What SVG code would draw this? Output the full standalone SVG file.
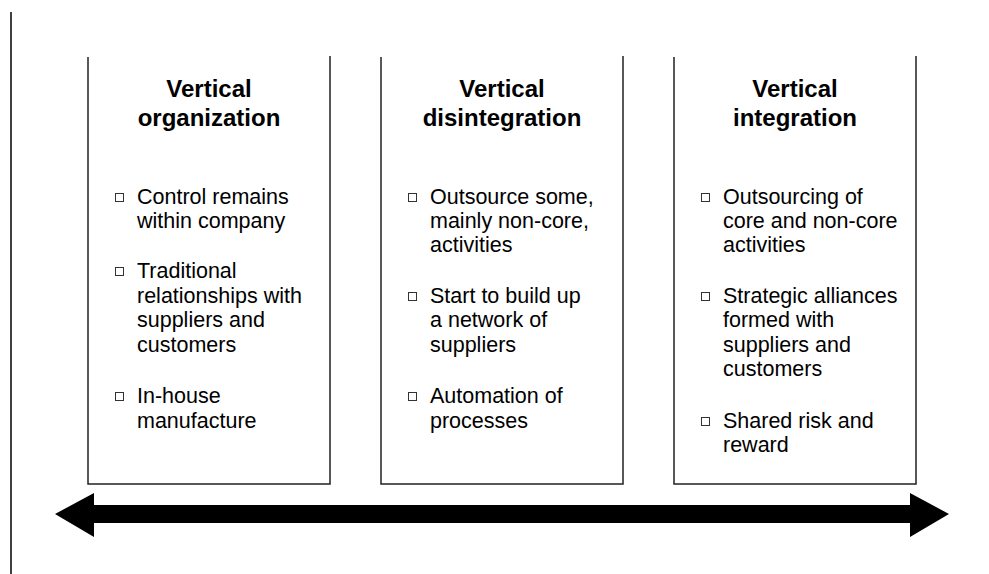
<svg xmlns="http://www.w3.org/2000/svg" width="989" height="574" viewBox="0 0 989 574">
<style>
.frame{fill:none;stroke:#222;stroke-width:1.5}
.t{font-family:"Liberation Sans",Arial,sans-serif;font-size:24px;font-weight:bold;fill:#000;text-anchor:middle}
.b{font-family:"Liberation Sans",Arial,sans-serif;font-size:21.5px;fill:#000}
.sq{fill:#fff;stroke:#333;stroke-width:1}
</style>
<rect width="989" height="574" fill="#fff"/>
<line x1="11" y1="12" x2="11" y2="574" stroke="#000" stroke-width="1.5"/>
<g id="box1">
<polyline class="frame" points="88,57 88,484 330,484 330,56"/>
<text class="t" x="209" y="97">Vertical</text>
<text class="t" x="209" y="126">organization</text>
<g class="b">
<rect class="sq" x="115.5" y="193.5" width="8" height="8"/>
<text x="137" y="204">Control remains</text>
<text x="137" y="228">within company</text>
<rect class="sq" x="115.5" y="267.5" width="8" height="8"/>
<text x="137" y="278">Traditional</text>
<text x="137" y="303">relationships with</text>
<text x="137" y="327">suppliers and</text>
<text x="137" y="352">customers</text>
<rect class="sq" x="115.5" y="392.5" width="8" height="8"/>
<text x="137" y="403">In-house</text>
<text x="137" y="428">manufacture</text>
</g>
</g>
<g id="box2">
<polyline class="frame" points="381,57 381,484 623,484 623,56"/>
<text class="t" x="502" y="97">Vertical</text>
<text class="t" x="502" y="126">disintegration</text>
<g class="b">
<rect class="sq" x="408.5" y="193.5" width="8" height="8"/>
<text x="430" y="204">Outsource some,</text>
<text x="430" y="228">mainly non-core,</text>
<text x="430" y="252">activities</text>
<rect class="sq" x="408.5" y="292.5" width="8" height="8"/>
<text x="430" y="303">Start to build up</text>
<text x="430" y="327">a network of</text>
<text x="430" y="352">suppliers</text>
<rect class="sq" x="408.5" y="392.5" width="8" height="8"/>
<text x="430" y="403">Automation of</text>
<text x="430" y="428">processes</text>
</g>
</g>
<g id="box3">
<polyline class="frame" points="674,57 674,484 916,484 916,56"/>
<text class="t" x="795" y="97">Vertical</text>
<text class="t" x="795" y="126">integration</text>
<g class="b">
<rect class="sq" x="701.5" y="193.5" width="8" height="8"/>
<text x="723" y="204">Outsourcing of</text>
<text x="723" y="228">core and non-core</text>
<text x="723" y="252">activities</text>
<rect class="sq" x="701.5" y="292.5" width="8" height="8"/>
<text x="723" y="303">Strategic alliances</text>
<text x="723" y="327">formed with</text>
<text x="723" y="352">suppliers and</text>
<text x="723" y="376">customers</text>
<rect class="sq" x="701.5" y="417.5" width="8" height="8"/>
<text x="723" y="428">Shared risk and</text>
<text x="723" y="452">reward</text>
</g>
</g>
<g id="connectors">
<polygon points="55,514 94,493 94,505 910,505 910,493 949,514 910,537 910,523 94,523 94,537" fill="#000"/>
</g>
</svg>
